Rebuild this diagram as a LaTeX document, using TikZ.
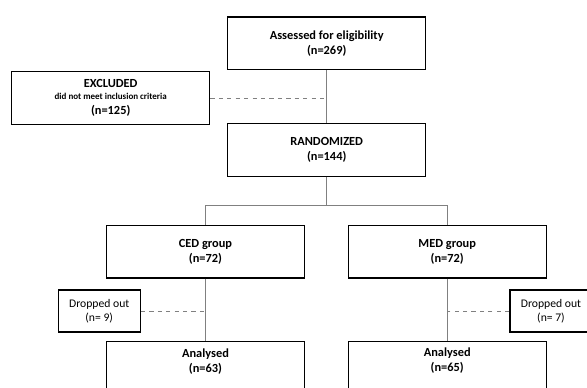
\documentclass[tikz,border=0pt]{standalone}
\usepackage{fontspec}
\setmainfont{Carlito}

\begin{document}
\begin{tikzpicture}[x=0.025cm,y=-0.025cm,
    bigbox/.style={draw,line width=0.9pt,minimum width=4.95cm,minimum height=1.31cm,
        align=center,font=\bfseries\fontsize{8.8}{10.6}\selectfont},
    dropbox/.style={draw,line width=0.9pt,minimum width=2.05cm,minimum height=1.05cm,
        align=center,font=\fontsize{8.3}{9.8}\selectfont},
    solidline/.style={draw=gray,line width=0.6pt},
    dashline/.style={draw=gray,line width=0.6pt,dashed}]
    \clip (0,0) rectangle (587,388);
    % boxes
    \node [bigbox] (assess) at (326.7,43.3) {Assessed for eligibility\\(n=269)};
    \node [bigbox] (excl) at (110.7,98) {EXCLUDED\\[-2.4pt]{\fontsize{6.4}{8}\selectfont did not meet inclusion criteria}\\[0.4pt](n=125)};
    \node [bigbox] (rand) at (326.7,150) {RANDOMIZED\\(n=144)};
    \node [bigbox] (ced) at (205.5,251.8) {CED group\\(n=72)};
    \node [bigbox] (med) at (447.2,251.8) {MED group\\(n=72)};
    \node [dropbox] (dropl) at (99.2,311) {Dropped out\\(n= 9)};
    \node [dropbox] (dropr) at (551,311) {Dropped out\\(n= 7)};
    \node [bigbox,anchor=north] (anl) at (205.5,341) {Analysed\\(n=63)\\ };
    \node [bigbox,anchor=north] (anr) at (447.2,340.5) {Analysed\\(n=65)\\ };
    % connectors
    \draw [solidline] (assess) -- (rand);
    \draw [dashline] (excl.east) -- (excl.east -| assess);
    \draw [solidline] (rand.south) -- ++(0,29) coordinate (split);
    \draw [solidline] (split) -| (ced.north);
    \draw [solidline] (split) -| (med.north);
    \draw [solidline] (ced) -- (anl);
    \draw [solidline] (med) -- (anr);
    \draw [dashline] (dropl.east) -- (dropl.east -| ced);
    \draw [dashline] (dropr.west) -- (dropr.west -| med);
\end{tikzpicture}
\end{document}
